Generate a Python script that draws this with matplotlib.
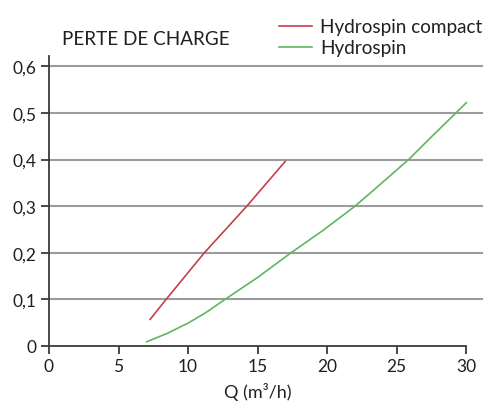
import matplotlib
matplotlib.use("Agg")
import matplotlib.pyplot as plt

plt.rcParams['font.family'] = ['Lato', 'DejaVu Sans']

# Data
compact_q = [7.27, 8.42, 11.17, 14.22, 16.98]
compact_dp = [0.057, 0.1, 0.2, 0.3, 0.396]
hydro_q = [7.03, 8.5, 10.0, 11.3, 12.66, 15.0, 17.4, 19.7, 22.0, 23.9,
           25.85, 27.5, 29.25, 30.0]
hydro_dp = [0.009, 0.027, 0.049, 0.072, 0.1, 0.147, 0.2, 0.248, 0.3, 0.349,
            0.4, 0.449, 0.5, 0.522]
x_ticks = [0, 5, 10, 15, 20, 25, 30]
y_ticks = [0, 0.1, 0.2, 0.3, 0.4, 0.5, 0.6]
y_labels = ['0', '0,1', '0,2', '0,3', '0,4', '0,5', '0,6']
series_names = ['Hydrospin compact', 'Hydrospin']

red = '#c4404a'
green = '#5fb65f'
txt = '#231f20'

fig = plt.figure(figsize=(5, 4.14), dpi=100)
ax = fig.add_axes([0.098, 0.162, 0.868, 0.700])

for y in y_ticks[1:]:
    ax.axhline(y, color='#9c9c9c', lw=1.5, zorder=1)

l1, = ax.plot(compact_q, compact_dp, color=red, lw=1.2, zorder=3,
              solid_joinstyle='round')
l2, = ax.plot(hydro_q, hydro_dp, color=green, lw=1.2, zorder=3,
              solid_joinstyle='round')

ax.set_xlim(0, 31.2)
ax.set_ylim(0, 0.622)
ax.set_xticks(x_ticks)
ax.set_xticklabels([str(v) for v in x_ticks])
ax.set_yticks(y_ticks)
ax.set_yticklabels(y_labels)

for s in ['top', 'right']:
    ax.spines[s].set_visible(False)
ax.spines['bottom'].set_bounds(0, 30)
for s in ['left', 'bottom']:
    ax.spines[s].set_color('#3a3a3a')
    ax.spines[s].set_linewidth(1.3)
ax.tick_params(axis='both', colors='#3a3a3a', width=1.3, length=6,
               labelsize=12.5, labelcolor=txt, pad=3)

ax.set_xlabel('Q (m³/h)', fontsize=13, color=txt, labelpad=6)
ax.xaxis.set_label_coords(0.48, -0.125)

fig.text(0.124, 0.905, 'PERTE DE CHARGE', fontsize=13.6, color=txt,
         ha='left', va='center')

leg = fig.legend([l1, l2], series_names, loc='upper left',
                 bbox_to_anchor=(0.532, 0.985), frameon=False, fontsize=13.6,
                 handlelength=1.75, handletextpad=0.4, labelspacing=0.2,
                 borderaxespad=0.3)
for t in leg.get_texts():
    t.set_color(txt)

fig.savefig('out.png', dpi=100)
